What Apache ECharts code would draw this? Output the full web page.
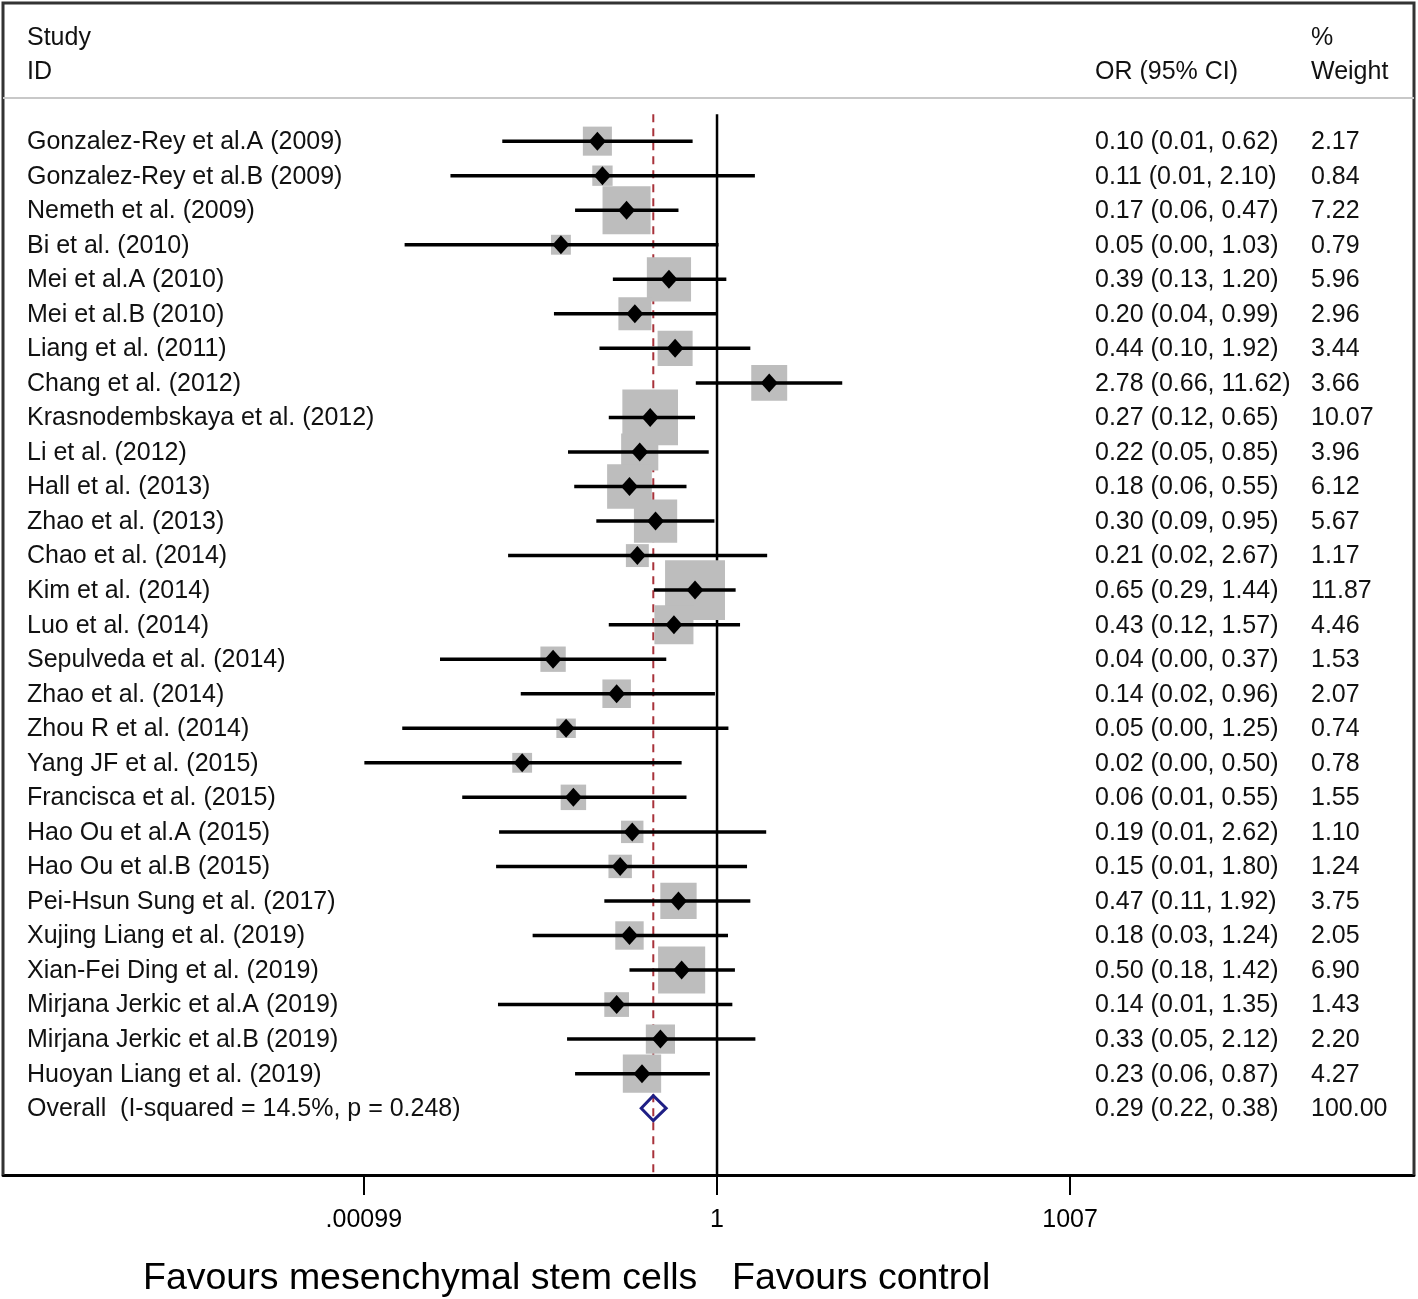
<!DOCTYPE html>
<html><head><meta charset="utf-8">
<script src="https://cdn.jsdelivr.net/npm/echarts@6/dist/echarts.min.js"></script>
<style>html,body{margin:0;padding:0;background:#fff}#c{width:1418px;height:1299px}</style>
</head><body><div id="c"></div>
<script>
// ---- data ----
const studies = [
  'Gonzalez-Rey et al.A (2009)', 'Gonzalez-Rey et al.B (2009)', 'Nemeth et al. (2009)', 'Bi et al. (2010)',
  'Mei et al.A (2010)', 'Mei et al.B (2010)', 'Liang et al. (2011)', 'Chang et al. (2012)',
  'Krasnodembskaya et al. (2012)', 'Li et al. (2012)', 'Hall et al. (2013)', 'Zhao et al. (2013)',
  'Chao et al. (2014)', 'Kim et al. (2014)', 'Luo et al. (2014)', 'Sepulveda et al. (2014)',
  'Zhao et al. (2014)', 'Zhou R et al. (2014)', 'Yang JF et al. (2015)', 'Francisca et al. (2015)',
  'Hao Ou et al.A (2015)', 'Hao Ou et al.B (2015)', 'Pei-Hsun Sung et al. (2017)', 'Xujing Liang et al. (2019)',
  'Xian-Fei Ding et al. (2019)', 'Mirjana Jerkic et al.A (2019)', 'Mirjana Jerkic et al.B (2019)', 'Huoyan Liang et al. (2019)'
];
const orVals = [0.096, 0.106, 0.17, 0.047, 0.39, 0.20, 0.44, 2.78, 0.27, 0.22, 0.18, 0.30, 0.21, 0.65,
  0.43, 0.0403, 0.14, 0.052, 0.022, 0.06, 0.19, 0.15, 0.47, 0.18, 0.50, 0.14, 0.33, 0.23];
const ciLow = [0.0149, 0.0054, 0.062, 0.0022, 0.13, 0.041, 0.10, 0.66, 0.12, 0.054, 0.061, 0.094, 0.0167, 0.29,
  0.12, 0.0044, 0.0214, 0.0021, 0.001, 0.0068, 0.014, 0.0132, 0.11, 0.027, 0.18, 0.0137, 0.053, 0.062];
const ciHigh = [0.62, 2.10, 0.47, 1.03, 1.20, 0.99, 1.92, 11.62, 0.65, 0.85, 0.55, 0.95, 2.67, 1.44,
  1.57, 0.37, 0.96, 1.25, 0.50, 0.55, 2.62, 1.80, 1.92, 1.24, 1.42, 1.35, 2.12, 0.87];
const weights = [2.17, 0.84, 7.22, 0.79, 5.96, 2.96, 3.44, 3.66, 10.07, 3.96, 6.12, 5.67, 1.17, 11.87,
  4.46, 1.53, 2.07, 0.74, 0.78, 1.55, 1.10, 1.24, 3.75, 2.05, 6.90, 1.43, 2.20, 4.27];
const overallLabel = 'Overall  (I-squared = 14.5%, p = 0.248)';
const overallOR = [0.287];
const overallLow = [0.22];
const overallHigh = [0.38];
const overallWeight = [100];
const tickValues = [0.00099, 1, 1007];
const tickLabels = ['.00099', '1', '1007'];
const headerLeft = ['Study', 'ID'];
const headerCI = 'OR (95% CI)';
const headerWeight = ['%', 'Weight'];
const bottomTitles = ['Favours mesenchymal stem cells', 'Favours control'];

// ---- chart ----
const LOG = Math.log10;
const FONT = "'Liberation Sans', Arial, sans-serif";
const FS = 25;
const n = studies.length;
const yMin = -4, yMax = 29.935, refTop = -0.78;
const fmt = (o, l, h) => o.toFixed(2) + ' (' + l.toFixed(2) + ', ' + h.toFixed(2) + ')';

const studyData = studies.map((s, i) => [LOG(orVals[i]), LOG(ciLow[i]), LOG(ciHigh[i]), weights[i], i]);
const textData = studies.map((s, i) => [0, i]).concat([[0, n]]);
const textRows = studies.map((s, i) => [s, fmt(orVals[i], ciLow[i], ciHigh[i]), weights[i].toFixed(2)])
  .concat([[overallLabel, fmt(overallOR[0], overallLow[0], overallHigh[0]), overallWeight[0].toFixed(2)]]);

const chart = echarts.init(document.getElementById('c'), null, {renderer: 'canvas'});
const tickLog = tickValues.map(LOG);
const hdr = (x, y, s) => ({type: 'text', x: x, y: y, style: {text: s, font: FS + 'px ' + FONT, fill: '#111', verticalAlign: 'middle'}});

const option = {
  animation: false,
  backgroundColor: '#fff',
  grid: {left: 3, right: 4, top: 3, height: 1172},
  xAxis: {
    type: 'value', min: -6.074, max: 5.929,
    axisLine: {onZero: false, lineStyle: {color: '#000', width: 3}},
    splitLine: {show: false},
    axisTick: {customValues: tickLog, length: 20, lineStyle: {color: '#000', width: 2}},
    axisLabel: {
      customValues: tickLog, margin: 33, fontSize: FS, color: '#000', fontFamily: FONT,
      formatter: v => { const k = tickLog.findIndex(t => Math.abs(t - v) < 1e-6); return k >= 0 ? tickLabels[k] : ''; }
    }
  },
  yAxis: {type: 'value', inverse: true, min: yMin, max: yMax, show: false},
  graphic: [
    {type: 'polyline', z: 10, shape: {points: [[3, 1175], [3, 3], [1414, 3], [1414, 1175]]},
      style: {stroke: '#333', lineWidth: 3, fill: null}},
    {type: 'line', z: 10, shape: {x1: 3, y1: 98, x2: 1414, y2: 98}, style: {stroke: '#c8c8c8', lineWidth: 2}},
    hdr(27, 38, headerLeft[0]), hdr(27, 72, headerLeft[1]), hdr(1095, 72, headerCI),
    hdr(1311, 38, headerWeight[0]), hdr(1311, 72, headerWeight[1]),
    {type: 'text', x: 143, y: 1279, style: {text: bottomTitles[0], font: '37.5px ' + FONT, fill: '#000', verticalAlign: 'middle'}},
    {type: 'text', x: 732, y: 1279, style: {text: bottomTitles[1], font: '37.5px ' + FONT, fill: '#000', verticalAlign: 'middle'}}
  ],
  series: [
    { // reference lines
      type: 'custom', z: 1, silent: true,
      data: [[0, 0], [LOG(overallOR[0]), 1]],
      encode: {x: 0},
      renderItem: (params, api) => {
        const x = api.value(0), kind = api.value(1);
        const p1 = api.coord([x, refTop]), p2 = api.coord([x, yMax]);
        return {type: 'line', shape: {x1: p1[0], y1: p1[1], x2: p2[0], y2: p2[1]},
          style: kind === 0 ? {stroke: '#000', lineWidth: 2.5} : {stroke: '#a8323a', lineWidth: 2, lineDash: [8, 6]}};
      }
    },
    { // weight boxes
      type: 'custom', z: 2, silent: true,
      data: studyData, encode: {x: 0, y: 4},
      renderItem: (params, api) => {
        const c = api.coord([api.value(0), api.value(4)]);
        const s = 6 + 15.65 * Math.sqrt(api.value(3));
        return {type: 'rect', shape: {x: c[0] - s / 2, y: c[1] - s / 2, width: s, height: s}, style: {fill: '#bdbdbd'}};
      }
    },
    { // CI lines and point diamonds
      type: 'custom', z: 3, silent: true,
      data: studyData, encode: {x: [0, 1, 2], y: 4},
      renderItem: (params, api) => {
        const r = api.value(4);
        const c = api.coord([api.value(0), r]);
        const l = api.coord([api.value(1), r]);
        const h = api.coord([api.value(2), r]);
        return {type: 'group', children: [
          {type: 'line', shape: {x1: l[0], y1: l[1], x2: h[0], y2: h[1]}, style: {stroke: '#000', lineWidth: 3.5}},
          {type: 'polygon', shape: {points: [[c[0] - 8.5, c[1]], [c[0], c[1] - 9.5], [c[0] + 8.5, c[1]], [c[0], c[1] + 9.5]]}, style: {fill: '#000'}}
        ]};
      }
    },
    { // overall diamond
      type: 'custom', z: 4, silent: true,
      data: [[LOG(overallOR[0]), LOG(overallLow[0]), LOG(overallHigh[0]), n]], encode: {x: [0, 1, 2], y: 3},
      renderItem: (params, api) => {
        const r = api.value(3);
        const c = api.coord([api.value(0), r]);
        const l = api.coord([api.value(1), r]);
        const h = api.coord([api.value(2), r]);
        return {type: 'polygon', shape: {points: [[l[0] + 1.5, c[1]], [c[0], c[1] - 12.5], [h[0] - 1.5, c[1]], [c[0], c[1] + 12.5]]},
          style: {fill: null, stroke: '#1f1f85', lineWidth: 3}};
      }
    },
    { // text columns
      type: 'custom', z: 5, silent: true,
      data: textData, encode: {x: 0, y: 1},
      renderItem: (params, api) => {
        const i = params.dataIndex;
        const y = api.coord([0, api.value(1)])[1] + 1;
        const t = textRows[i];
        const mk = (x, s) => ({type: 'text', x: x, y: y, style: {text: s, font: FS + 'px ' + FONT, fill: '#111', verticalAlign: 'middle', align: 'left'}});
        return {type: 'group', children: [mk(27, t[0]), mk(1095, t[1]), mk(1311, t[2])]};
      }
    }
  ]
};
chart.setOption(option);
</script>
</body></html>
